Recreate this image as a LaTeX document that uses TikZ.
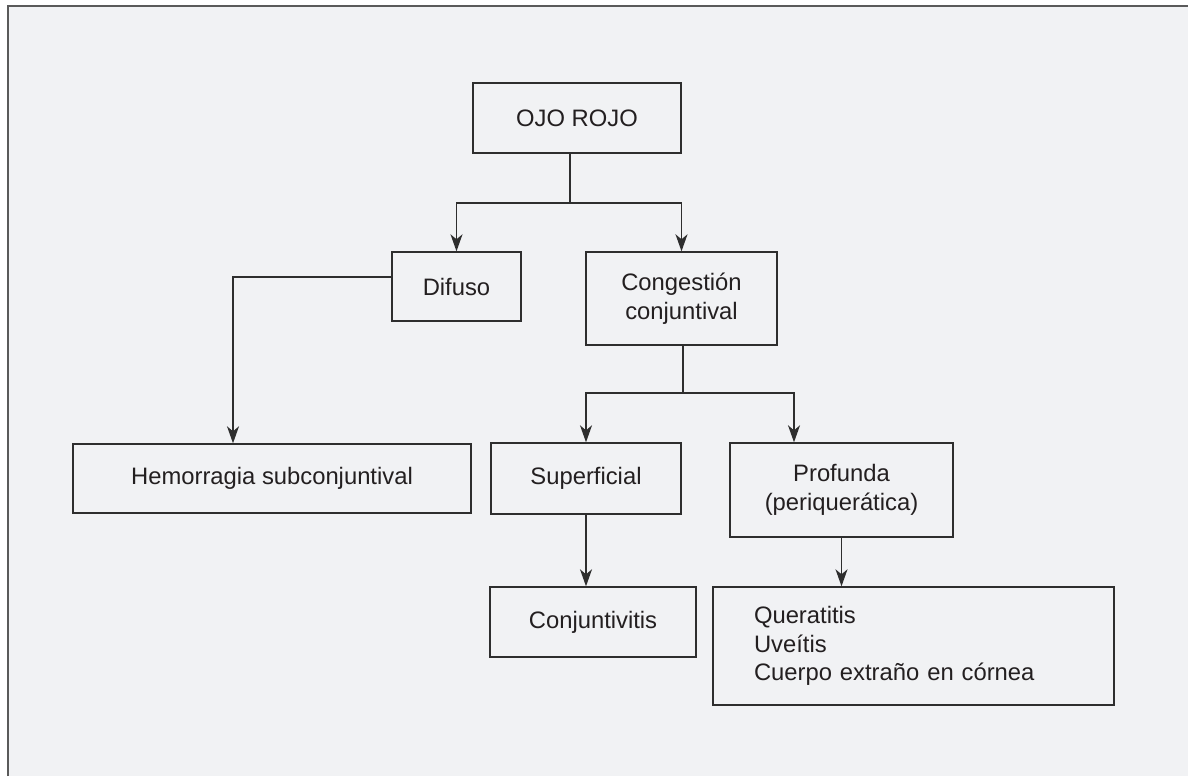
\documentclass[tikz,border=0pt]{standalone}
\usepackage{fontspec}
\setmainfont{Liberation Sans}
\usetikzlibrary{arrows.meta,calc}
\definecolor{bg}{HTML}{F1F2F4}
\definecolor{ln}{HTML}{2E2E2E}
\definecolor{fr}{HTML}{5A5A5A}
\definecolor{tx}{HTML}{231F20}
\tikzset{
  box/.style={draw=ln, line width=1.4pt, rectangle, inner sep=0pt, text=tx, align=center,
    font=\fontsize{23.8}{28.6}\selectfont},
  arr/.style={draw=ln, line width=1.4pt, -{Stealth[length=17pt,width=12pt,inset=5pt]}},
  ln/.style={draw=ln, line width=1.4pt}
}
\begin{document}
\begin{tikzpicture}[x=1pt,y=-1pt]
\useasboundingbox (0,0) rectangle (1188,776);
\fill[white] (0,0) rectangle (1188,776);
\fill[bg] (8,6) rectangle (1188,776);
\draw[fr, line width=2pt] (8,776) -- (8,6) -- (1188,6);
% boxes
\node[box, minimum width=208pt, minimum height=70pt] (ojo) at (577,118) {OJO ROJO};
\node[box, minimum width=129pt, minimum height=69pt] (dif) at (456.5,286.5) {Difuso};
\node[box, minimum width=191pt, minimum height=93pt] (cong) at (681.5,298.5) {Congestión\\conjuntival};
\node[box, minimum width=398pt, minimum height=69pt] (hem) at (272,478.5) {Hemorragia subconjuntival};
\node[box, minimum width=190pt, minimum height=71pt] (sup) at (586,478.5) {Superficial};
\node[box, minimum width=223pt, minimum height=94pt] (pro) at (841.5,490) {Profunda\\(periquerática)};
\node[box, minimum width=206pt, minimum height=70pt] (conj) at (593,622) {Conjuntivitis};
\node[box, minimum width=401pt, minimum height=118pt, text width=319pt, inner xsep=41pt, align=left] (que) at (913.5,646) {Queratitis\\Uveítis\\Cuerpo extraño en córnea};
% connectors
\coordinate (j1) at (570,203);
\draw[ln] (ojo.south -| j1) -- (j1);
\draw[arr] (j1) -| (dif.north);
\draw[arr] (j1) -| (cong.north);
\coordinate (j2) at (233,277);
\draw[arr] (dif.west |- j2) -- (j2) -- (j2 |- hem.north);
\coordinate (j3) at (683,393);
\coordinate (p1) at (794,393);
\draw[ln] (cong.south -| j3) -- (j3);
\draw[arr] (j3) -| (sup.north);
\draw[arr] (j3) -- (p1) -- (p1 |- pro.north);
\draw[arr] (sup.south) -- (sup.south |- conj.north);
\draw[arr] (pro.south) -- (pro.south |- que.north);
\end{tikzpicture}
\end{document}
